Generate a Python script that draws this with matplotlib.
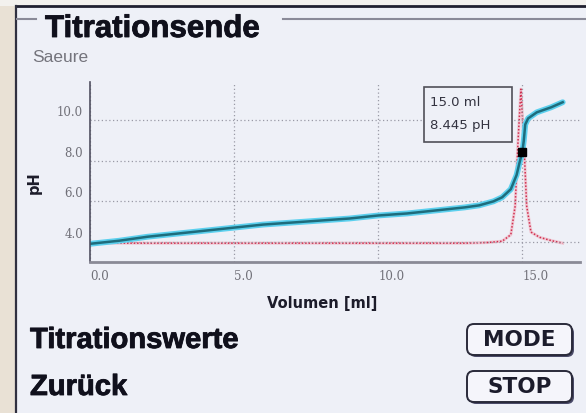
import matplotlib
matplotlib.use('Agg')
import matplotlib.pyplot as plt
import matplotlib.patheffects as pe
from matplotlib.lines import Line2D
from matplotlib.patches import Rectangle, FancyBboxPatch
from matplotlib.transforms import IdentityTransform, ScaledTranslation

# titration curve (volume in ml, pH)
volume = [0.0, 1.0, 2.0, 3.0, 4.0, 5.0, 6.0, 7.0, 8.0, 9.0, 10.0, 11.0, 12.0,
          13.0, 13.5, 14.0, 14.3, 14.6, 14.8, 14.9, 15.0, 15.05, 15.1, 15.2,
          15.5, 16.0, 16.4]
ph = [3.9, 4.05, 4.25, 4.4, 4.55, 4.7, 4.85, 4.95, 5.05, 5.15, 5.3, 5.4, 5.55,
      5.7, 5.8, 6.0, 6.2, 6.6, 7.3, 7.9, 8.45, 9.0, 9.8, 10.1, 10.4, 10.65, 10.9]

# first derivative (dpH/dV)
deriv_vol = [0.0, 13.0, 13.8, 14.3, 14.6, 14.75, 14.85, 14.95, 15.05, 15.15,
             15.3, 15.6, 16.0, 16.4]
deriv = [0.15, 0.15, 0.2, 0.3, 0.8, 3.0, 8.0, 12.0, 8.0, 3.0, 1.0, 0.6, 0.35, 0.15]

# end point
ep_vol = 15.0
ep_ph = 8.445

xticks = [0.0, 5.0, 10.0, 15.0]
yticks = [4.0, 6.0, 8.0, 10.0]

W, H = 586, 414
fig = plt.figure(figsize=(W / 100, H / 100), dpi=100)
fig.patch.set_facecolor('#e9e1d5')


def disp(x, y):
    # pixel coords from top-left -> display coords
    return x, H - y


def heavy(color):
    # thicken the glyphs a little, the LCD font is very black
    return [pe.withStroke(linewidth=0.6, foreground=color)]


# screen area
top_strip = Rectangle(disp(0, 7), W, 7, transform=IdentityTransform(),
                      facecolor='#f3f1ee', edgecolor='none', zorder=0)
fig.add_artist(top_strip)
screen = Rectangle(disp(16, 414), W - 16, 414 - 7, transform=IdentityTransform(),
                   facecolor='#eef0f7', edgecolor='none', zorder=0)
fig.add_artist(screen)

# frame lines
for (x0, y0, x1, y1, c, lw) in [(16, 7, 586, 7, '#202030', 2.0),
                                (16, 7, 16, 414, '#303040', 1.6),
                                (17, 20, 36, 20, '#8a8a98', 1.5),
                                (283, 20, 586, 20, '#8a8a98', 1.5)]:
    a, b = disp(x0, y0)
    c2, d = disp(x1, y1)
    fig.add_artist(Line2D([a, c2], [b, d], transform=IdentityTransform(),
                          color=c, lw=lw, zorder=1))

fig.text(45 / W, 1 - 30 / H, 'Titrationsende', family='Liberation Sans',
         weight='bold', fontsize=22.5, color='#10101c', va='center', ha='left',
         path_effects=heavy('#10101c'))
fig.text(32 / W, 1 - 58 / H, 'Saeure', family='Liberation Sans',
         fontsize=12.5, color='#74747c', va='center', ha='left')

# plot area
ax = fig.add_axes([90 / W, 1 - 263 / H, 490 / W, 180 / H])
ax2 = ax.twinx()
ax.set_zorder(2)
ax.patch.set_visible(False)
ax2.patch.set_visible(False)

# derivative curve
ax2.plot(deriv_vol, deriv, color='#f0a0b0', lw=2.2, alpha=0.5)
ax2.plot(deriv_vol, deriv, color='#d03050', lw=1.1, linestyle=(0, (1, 1.2)))
ax2.set_ylim(-1.3, 12.55)
ax2.set_xlim(0, 17.0)
ax2.axis('off')

# titration curve
ax.plot(volume, ph, color='#5cd0ee', lw=4.2, solid_capstyle='round')
ax.plot(volume, ph, color='#1e6c7c', lw=1.8)
ax.plot([ep_vol], [ep_ph], 's', color='black', markersize=5.5)

ax.set_xlim(0, 17.0)
ax.set_ylim(3.0, 11.9)
ax.set_xticks(xticks)
ax.set_yticks(yticks)
ax.set_xticklabels(['%.1f' % v for v in xticks])
ax.set_yticklabels(['%.1f' % v for v in yticks])
ax.tick_params(length=0, labelsize=8.5, labelcolor='#707078', pad=5)
for lbl in ax.get_xticklabels():
    lbl.set_family('DejaVu Serif')
    lbl.set_ha('left')
for lbl in ax.get_yticklabels():
    lbl.set_family('DejaVu Serif')
    lbl.set_va('bottom')
    lbl.set_transform(lbl.get_transform() + ScaledTranslation(0, 0.02, fig.dpi_scale_trans))

ax.grid(True, color='#9a9aa6', linestyle=(0, (1, 2)), lw=0.9)
for s in ['top', 'right']:
    ax.spines[s].set_visible(False)
ax.spines['left'].set_color('#505060')
ax.spines['left'].set_linewidth(1.2)
ax.spines['bottom'].set_color('#8a8a96')
ax.spines['bottom'].set_linewidth(2.0)

ax.set_xlabel('Volumen [ml]', fontsize=10.5, weight='bold', color='#1c1c2a')
ax.xaxis.set_label_coords((322 - 90) / 490, (263 - 296) / 180)
ax.set_ylabel('pH', fontsize=10.5, weight='bold', color='#1c1c2a')
ax.yaxis.set_label_coords((42 - 90) / 490, (263 - 183) / 180)

# end point info box
ax.add_patch(Rectangle(((424 - 90) / 490, (263 - 143) / 180), 88 / 490, 55 / 180,
                       transform=ax.transAxes, facecolor='#eef0f7',
                       edgecolor='#505058', lw=1.2, zorder=5))
ax.text((430 - 90) / 490, (263 - 102) / 180, '%.1f ml' % ep_vol,
        transform=ax.transAxes, fontsize=9.5, color='#333340', va='center', zorder=6)
ax.text((430 - 90) / 490, (263 - 126) / 180, '%.3f pH' % ep_ph,
        transform=ax.transAxes, fontsize=9.5, color='#333340', va='center', zorder=6)

# menu entries
fig.text(30 / W, 1 - 341 / H, 'Titrationswerte', family='Liberation Sans',
         weight='bold', fontsize=21, color='#10101c', va='center', ha='left',
         path_effects=heavy('#10101c'))
fig.text(30 / W, 1 - 388 / H, 'Zurück', family='Liberation Sans',
         weight='bold', fontsize=21, color='#10101c', va='center', ha='left',
         path_effects=heavy('#10101c'))

for label, y0, y1 in [('MODE', 325, 356), ('STOP', 372, 403)]:
    x0, x1 = 467, 572
    bx, by = disp(x0, y1)
    shadow = FancyBboxPatch((bx + 2, by - 2), x1 - x0, y1 - y0,
                            boxstyle='round,pad=0,rounding_size=7',
                            transform=IdentityTransform(), facecolor='#4a4a68',
                            edgecolor='none', zorder=3)
    fig.add_artist(shadow)
    btn = FancyBboxPatch((bx, by), x1 - x0, y1 - y0,
                         boxstyle='round,pad=0,rounding_size=7',
                         transform=IdentityTransform(), facecolor='#f5f5fb',
                         edgecolor='#2a2a3a', lw=1.4, zorder=4)
    fig.add_artist(btn)
    fig.text((x0 + x1) / 2 / W, 1 - (y0 + y1) / 2 / H, label, weight='bold',
             fontsize=15.5, color='#1c1c2c', ha='center', va='center', zorder=5)

fig.savefig('out.png', dpi=100, facecolor=fig.get_facecolor())
